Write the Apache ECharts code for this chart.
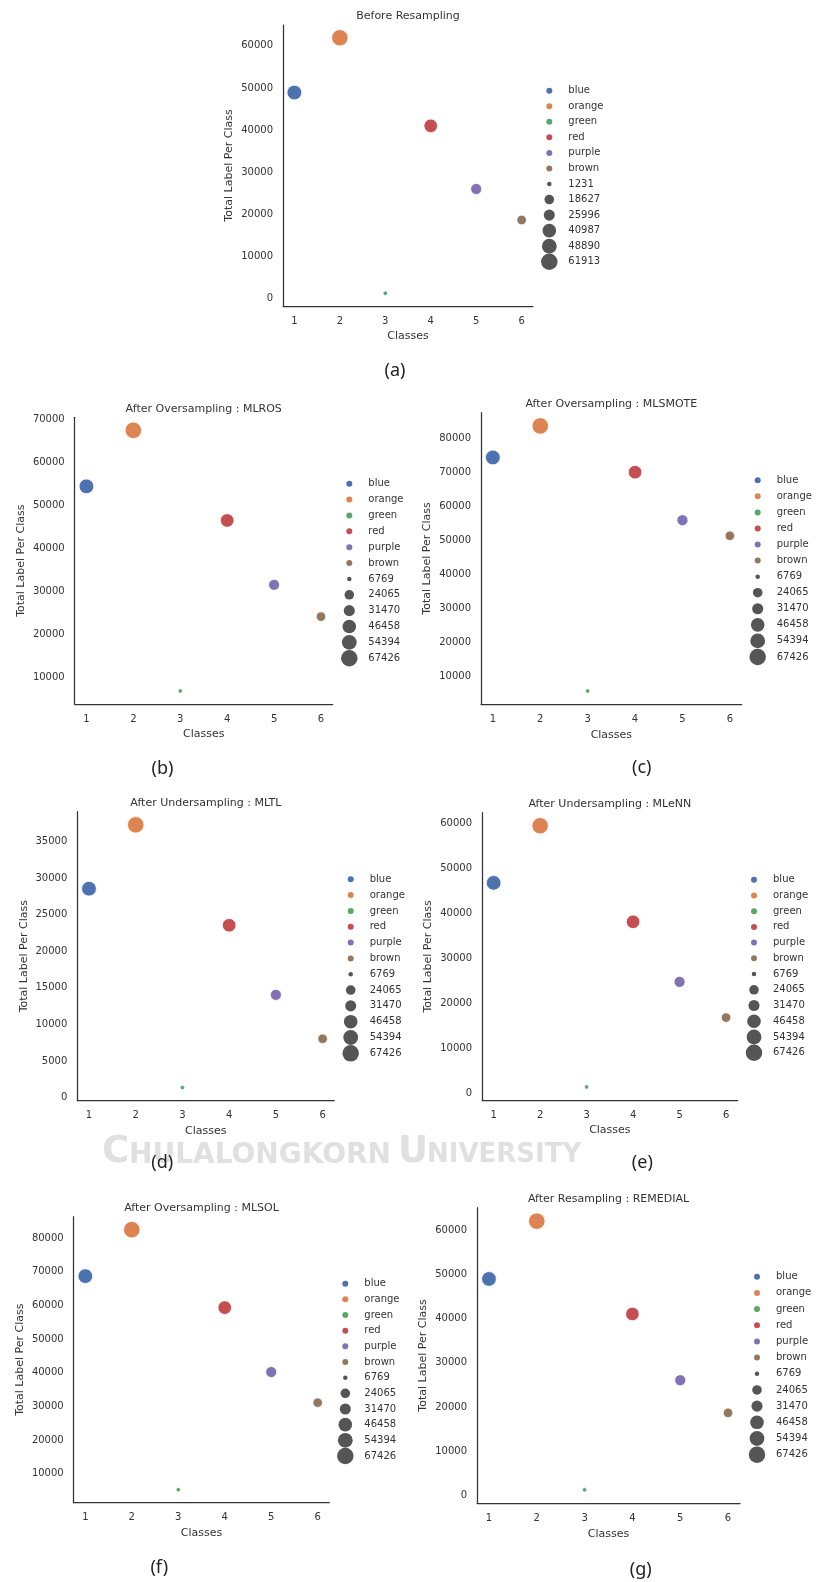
<!DOCTYPE html>
<html>
<head>
<meta charset="utf-8">
<script src="https://cdn.jsdelivr.net/npm/echarts@6/dist/echarts.min.js"></script>
<style>
    html, body { margin: 0; padding: 0; background: #fff; }
    #main { width: 817px; height: 1582px; }
</style>
</head>
<body>
<div id="main"></div>
<script>
    // x axis classes and the colour names shown in the legends
    var classes = [1, 2, 3, 4, 5, 6];
    var classNames = ['blue', 'orange', 'green', 'red', 'purple', 'brown'];
    var classColors = ['#4c72b0', '#dd8452', '#55a868', '#c44e52', '#8172b3', '#937860'];

    // total label per class (one array per panel)
    var beforeResampling = [48890, 61913, 1231, 40987, 25996, 18627];
    var mlros = [54394, 67426, 6769, 46458, 31470, 24065];
    var mlsmote = [74500, 83800, 5600, 70150, 56000, 51400];
    var mltl = [28550, 37280, 1370, 23550, 14040, 8040];
    var mlenn = [46700, 59400, 1340, 38050, 24700, 16750];
    var mlsol = [68700, 82500, 5240, 59350, 40200, 31100];
    var remedial = [48940, 62000, 1290, 41030, 26060, 18680];

    // size legend labels
    var sizeLegendA = [1231, 18627, 25996, 40987, 48890, 61913];
    var sizeLegendB = [6769, 24065, 31470, 46458, 54394, 67426];

    var FONT = '"DejaVu Sans", "Noto Sans", sans-serif';
    var TXT = '#333';

    // layout of each sub plot (pixels)
    var panels = [
        {title: 'Before Resampling', cap: '(a)', values: beforeResampling, sizes: beforeResampling, legendSizes: sizeLegendA,
            x0: 283, x1: 533, y0: 25, y1: 306, step: 10000, capX: 395, capY: 370.7, lx: 549.3, ly: 90.7, lgap: 15.55},
        {title: 'After Oversampling : MLROS', cap: '(b)', values: mlros, sizes: mlros, legendSizes: sizeLegendB,
            x0: 74.7, x1: 332.7, y0: 417.3, y1: 704, step: 10000, capX: 162.5, capY: 769, lx: 349.3, ly: 483.7, lgap: 15.87},
        {title: 'After Oversampling : MLSMOTE', cap: '(c)', values: mlsmote, sizes: mlros, legendSizes: sizeLegendB,
            x0: 481, x1: 741.7, y0: 412.7, y1: 704.3, step: 10000, capX: 641.7, capY: 768.3, lx: 757.7, ly: 480.3, lgap: 16.06},
        {title: 'After Undersampling : MLTL', cap: '(d)', values: mltl, sizes: mlros, legendSizes: sizeLegendB,
            x0: 77.3, x1: 334.3, y0: 811.7, y1: 1100.7, step: 5000, capX: 162.3, capY: 1163.3, lx: 350.7, ly: 879.3, lgap: 15.82},
        {title: 'After Undersampling : MLeNN', cap: '(e)', values: mlenn, sizes: mlros, legendSizes: sizeLegendB,
            x0: 482, x1: 737.7, y0: 812.7, y1: 1100, step: 10000, capX: 642.3, capY: 1163.3, lx: 754, ly: 879.7, lgap: 15.73},
        {title: 'After Oversampling : MLSOL', cap: '(f)', values: mlsol, sizes: mlros, legendSizes: sizeLegendB,
            x0: 73.7, x1: 329.3, y0: 1216.7, y1: 1502.7, step: 10000, capX: 159.3, capY: 1568.3, lx: 345.3, ly: 1283.7, lgap: 15.66},
        {title: 'After Resampling : REMEDIAL', cap: '(g)', values: remedial, sizes: mlros, legendSizes: sizeLegendB,
            x0: 477, x1: 740, y0: 1207.7, y1: 1503.3, step: 10000, capX: 640.7, capY: 1570, lx: 757, ly: 1276.7, lgap: 16.18}
    ];

    // marker area grows linearly with the size variable
    function markerSize(v, lo, hi) {
        var a0 = 4.5 * 4.5, a1 = 16.5 * 16.5;
        return Math.sqrt(a0 + (v - lo) / (hi - lo) * (a1 - a0));
    }

    var grids = [], xAxes = [], yAxes = [], series = [], legends = [], graphics = [];

    panels.forEach(function (p, i) {
        var vmin = Math.min.apply(null, p.values), vmax = Math.max.apply(null, p.values);
        var pad = (vmax - vmin) * 0.05;
        var lo = Math.min.apply(null, p.legendSizes), hi = Math.max.apply(null, p.legendSizes);

        grids.push({left: p.x0, top: p.y0, width: p.x1 - p.x0, height: p.y1 - p.y0,
            containLabel: false, outerBoundsMode: 'none', show: false});

        var axisLine = {show: true, onZero: false, lineStyle: {color: '#333', width: 1.25}};
        xAxes.push({
            gridIndex: i, type: 'value', min: 0.75, max: 6.25, minInterval: 1, maxInterval: 1,
            axisLine: axisLine, axisTick: {show: false}, splitLine: {show: false},
            axisLabel: {showMinLabel: false, showMaxLabel: false, margin: 10, fontSize: 10, color: TXT, fontFamily: FONT,
                formatter: function (v) { return String(v); }},
            name: 'Classes', nameLocation: 'middle', nameGap: 25,
            nameTextStyle: {fontSize: 11, color: TXT, fontFamily: FONT}
        });
        yAxes.push({
            gridIndex: i, type: 'value', min: vmin - pad, max: vmax + pad, minInterval: p.step, maxInterval: p.step,
            axisLine: axisLine, axisTick: {show: false}, splitLine: {show: false},
            axisLabel: {showMinLabel: false, showMaxLabel: false, margin: 10, fontSize: 10, color: TXT, fontFamily: FONT,
                formatter: function (v) { return String(v); }},
            name: 'Total Label Per Class', nameLocation: 'middle', nameGap: 48,
            nameTextStyle: {fontSize: 11, color: TXT, fontFamily: FONT}
        });

        // one series per class so the colour legend can refer to it
        classes.forEach(function (c, k) {
            series.push({
                type: 'scatter', name: classNames[k], xAxisIndex: i, yAxisIndex: i,
                data: [[c, p.values[k]]],
                symbolSize: markerSize(p.sizes[k], lo, hi),
                itemStyle: {color: classColors[k], borderColor: '#fff', borderWidth: 0.8, opacity: 1},
                emphasis: {disabled: true}
            });
        });
        // empty series carrying the size legend entries
        p.legendSizes.forEach(function (s) {
            series.push({type: 'scatter', name: String(s), xAxisIndex: i, yAxisIndex: i, data: [],
                itemStyle: {color: '#2b2b2b'}});
        });

        var entries = classNames.map(function (n) { return {name: n, d: 6}; })
            .concat(p.legendSizes.map(function (s) { return {name: String(s), d: markerSize(s, lo, hi)}; }));
        entries.forEach(function (e, r) {
            // the legend box starts at the circle's left edge, the text sits 19px right of the circle centre
            legends.push({
                data: [e.name], orient: 'vertical', padding: 0, selectedMode: false,
                left: p.lx - e.d / 2, top: p.ly + r * p.lgap - 9,
                itemWidth: 28, itemHeight: e.d, icon: 'circle',
                itemStyle: {borderWidth: 0},
                textStyle: {fontSize: 10, color: TXT, fontFamily: FONT, lineHeight: 18}
            });
        });

        graphics.push({type: 'text', x: (p.x0 + p.x1) / 2, y: p.y0 - 8.5, z: 10,
            style: {text: p.title, fill: TXT, font: '11px ' + FONT, align: 'center', verticalAlign: 'middle',
                textAlign: 'center', textVerticalAlign: 'middle'}});
        graphics.push({type: 'text', x: p.capX, y: p.capY, z: 10,
            style: {text: p.cap, fill: '#222', font: '18px "Noto Sans", sans-serif', align: 'center', verticalAlign: 'middle',
                textAlign: 'center', textVerticalAlign: 'middle'}});
    });

    // faint watermark behind the middle captions
    var wm = [
        {t: 'C', x: 102, y: 1152, s: 37},
        {t: 'HULALONGKORN', x: 129, y: 1155.5, s: 28},
        {t: 'U', x: 398, y: 1152, s: 37},
        {t: 'NIVERSITY', x: 427, y: 1155.5, s: 26}
    ];
    wm.forEach(function (w) {
        graphics.push({type: 'text', x: w.x, y: w.y, z: -10, silent: true,
            style: {text: w.t, fill: '#e0e0e0', font: 'bold ' + w.s + 'px "DejaVu Sans"',
                align: 'left', verticalAlign: 'middle', textAlign: 'left', textVerticalAlign: 'middle'}});
    });

    var chart = echarts.init(document.getElementById('main'), null, {renderer: 'canvas'});
    chart.setOption({
        animation: false,
        backgroundColor: '#fff',
        grid: grids,
        xAxis: xAxes,
        yAxis: yAxes,
        legend: legends,
        graphic: graphics,
        series: series
    });
</script>
</body>
</html>
